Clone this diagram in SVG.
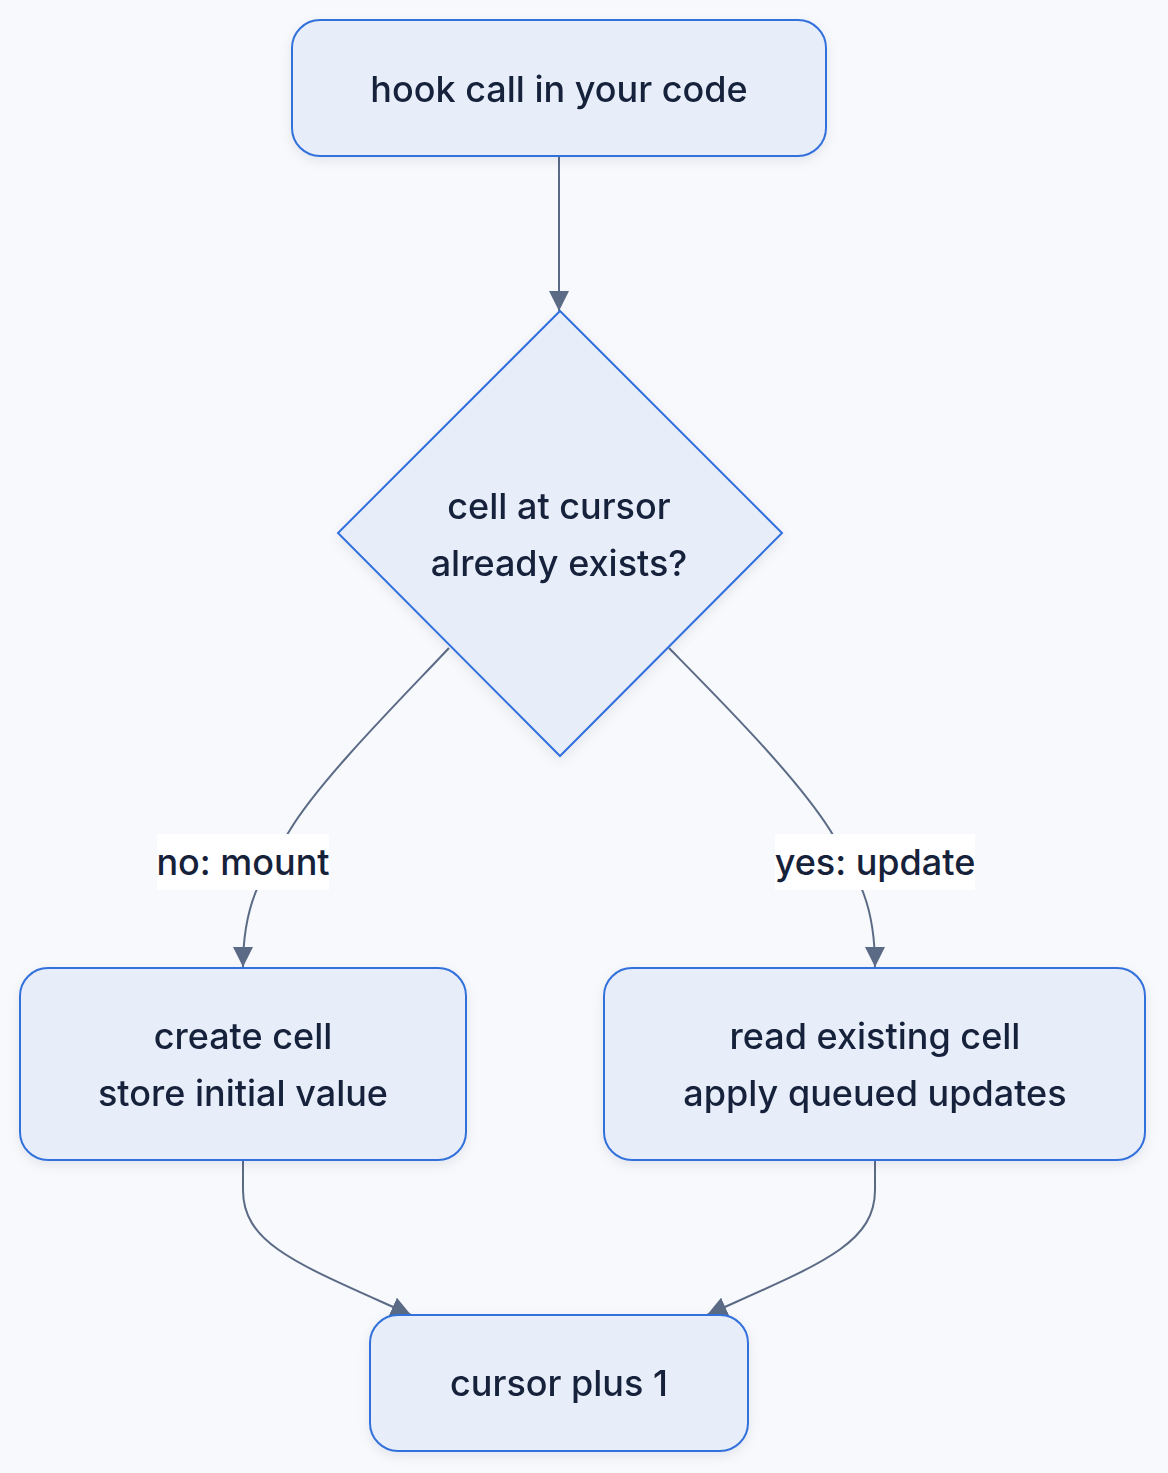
<svg xmlns="http://www.w3.org/2000/svg" width="1168" height="1473" viewBox="0 0 1168 1473">
  <style>
    .node rect, .node polygon { fill: #e8eef9; stroke: #3370dc; stroke-width: 2; }
    .node text, .label text { font-family: Inter, "Noto Sans", sans-serif; font-size: 36px; font-weight: 500; fill: #16213a; text-anchor: middle; }
    .edge { fill: none; stroke: #5b6b86; stroke-width: 2; }
    .label rect { fill: #ffffff; }
  </style>
  <defs>
    <marker id="arrowL" viewBox="0 0 10 10" refX="10" refY="5" markerWidth="20" markerHeight="20" markerUnits="userSpaceOnUse" orient="auto">
      <path d="M0,0 L10,5 L0,10 z" fill="#5b6b86"/>
    </marker>
    <filter id="shadow" x="-10%" y="-10%" width="120%" height="130%">
      <feDropShadow dx="0" dy="4" stdDeviation="6" flood-color="#1a2540" flood-opacity="0.08"/>
    </filter>
  </defs>
  <rect x="0" y="0" width="1168" height="1473" fill="#f7f9fc"/>

  <g id="connectors">
    <path class="edge" d="M559,156 L559,311" marker-end="url(#arrowL)"/>
    <path class="edge" d="M449,648 C400,700 320,780 290,830 C260,878 243,905 243,967" marker-end="url(#arrowL)"/>
    <path class="edge" d="M669,648 C720,700 795,775 830,830 C860,880 875,905 875,967" marker-end="url(#arrowL)"/>
    <path class="edge" d="M243,1160 L243,1190 C243,1245 300,1265 411,1315" marker-end="url(#arrowL)"/>
    <path class="edge" d="M875,1160 L875,1190 C875,1245 818,1265 707,1315" marker-end="url(#arrowL)"/>
  </g>

  <g id="edge-labels">
    <g class="label" id="label-no">
      <rect x="157" y="834" width="172" height="56"/>
      <text x="243" y="875">no: mount</text>
    </g>
    <g class="label" id="label-yes">
      <rect x="775" y="834" width="200" height="56"/>
      <text x="875" y="875">yes: update</text>
    </g>
  </g>

  <g id="node-hook" class="node" filter="url(#shadow)">
    <rect x="292" y="20" width="534" height="136" rx="28" ry="28"/>
    <text x="559" y="102">hook call in your code</text>
  </g>

  <g id="node-decision" class="node" filter="url(#shadow)">
    <polygon points="560,311 782,533 560,756 338,533"/>
    <text x="559" y="519">cell at cursor</text>
    <text x="559" y="576">already exists?</text>
  </g>

  <g id="node-mount" class="node" filter="url(#shadow)">
    <rect x="20" y="968" width="446" height="192" rx="28" ry="28"/>
    <text x="243" y="1049">create cell</text>
    <text x="243" y="1106">store initial value</text>
  </g>

  <g id="node-update" class="node" filter="url(#shadow)">
    <rect x="604" y="968" width="541" height="192" rx="28" ry="28"/>
    <text x="875" y="1049">read existing cell</text>
    <text x="875" y="1106">apply queued updates</text>
  </g>

  <g id="node-cursor" class="node" filter="url(#shadow)">
    <rect x="370" y="1315" width="378" height="136" rx="28" ry="28"/>
    <text x="559" y="1396">cursor plus 1</text>
  </g>
</svg>
